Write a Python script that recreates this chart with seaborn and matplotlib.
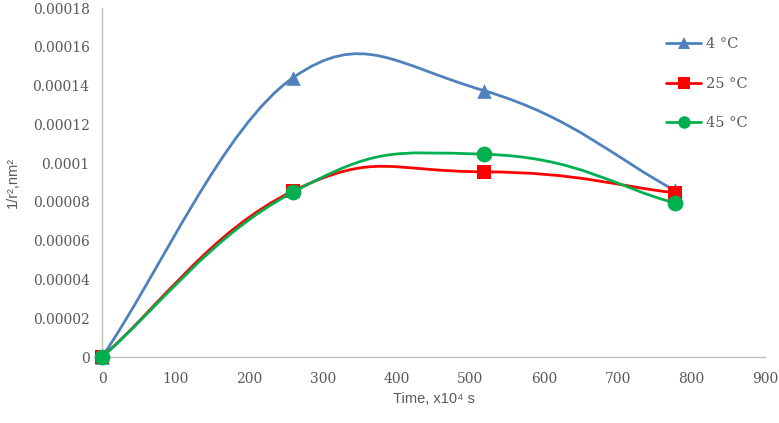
import numpy as np
import pandas as pd
import matplotlib
matplotlib.use("Agg")
import matplotlib.pyplot as plt
import seaborn as sns
from matplotlib.path import Path
from matplotlib.patches import PathPatch
from matplotlib.lines import Line2D
from matplotlib.ticker import FuncFormatter, MultipleLocator

# ---------------------------------------------------------
# data (time in x10^4 s, 1/r^2 in nm^2)
# ---------------------------------------------------------
time = [0, 259.2, 518.4, 777.6]
r_4 = [0, 0.000144, 0.0001374, 0.0000860]
r_25 = [0, 0.0000856, 0.0000955, 0.0000847]
r_45 = [0, 0.0000850, 0.0001046, 0.0000795]
labels = ["4 °C", "25 °C", "45 °C"]

colors = {"4 °C": "#4f81bd", "25 °C": "#ff0000", "45 °C": "#00b050"}
markers = {"4 °C": "^", "25 °C": "s", "45 °C": "o"}

df = pd.DataFrame({
    "time": time * 3,
    "val": r_4 + r_25 + r_45,
    "series": [lab for lab in labels for _ in time],
})

sns.set_style("white")
plt.rcParams["font.family"] = ["DejaVu Serif"]

fig = plt.figure(figsize=(7.79, 4.23), dpi=100)
ax = fig.add_axes([102 / 779, 66 / 423, 663 / 779, 349 / 423])
ax.set_xlim(0, 900)
ax.set_ylim(0, 0.00018)


# ---------------------------------------------------------
# smoothed line like the spreadsheet one (bezier in pixel space)
# ---------------------------------------------------------
def smooth_path(ax, xs, ys):
    pts = ax.transData.transform(np.column_stack([xs, ys]))
    n = len(pts)
    verts = [pts[0]]
    codes = [Path.MOVETO]

    def ctrl_len(i):
        # weight of the tangent at inner point i
        d0 = np.hypot(*(pts[i] - pts[i - 1]))
        d1 = np.hypot(*(pts[i + 1] - pts[i]))
        return 0.5 * min(d0, d1) / (d0 + d1)

    for i in range(n - 1):
        p1, p2 = pts[i], pts[i + 1]
        if i > 0:
            c1 = p1 + (p2 - pts[i - 1]) * ctrl_len(i)
        else:
            c1 = p1 + (p2 - p1) * 0.3
        if i + 2 < n:
            c2 = p2 - (pts[i + 2] - p1) * ctrl_len(i + 1)
        else:
            c2 = p2 - (p2 - p1) * 0.3
        verts += [c1, c2, p2]
        codes += [Path.CURVE4] * 3
    data_verts = ax.transData.inverted().transform(np.array(verts))
    return Path(data_verts, codes)


for k, lab in enumerate(labels):
    sub = df[df["series"] == lab]
    patch = PathPatch(smooth_path(ax, sub["time"].values, sub["val"].values),
                      fill=False, edgecolor=colors[lab], lw=2.0,
                      zorder=2 + 2 * k, clip_on=False)
    ax.add_patch(patch)
    sns.scatterplot(data=sub, x="time", y="val", marker=markers[lab],
                    color=colors[lab], s=110 if lab != "45 °C" else 130,
                    linewidth=0, ax=ax, zorder=3 + 2 * k, clip_on=False,
                    legend=False)

# ---------------------------------------------------------
# axes styling
# ---------------------------------------------------------
ax.xaxis.set_major_locator(MultipleLocator(100))
ax.yaxis.set_major_locator(MultipleLocator(0.00002))
ax.yaxis.set_major_formatter(FuncFormatter(
    lambda v, p: "0" if abs(v) < 1e-12 else f"{v:.5f}".rstrip("0").rstrip(".")))

for s in ["top", "right"]:
    ax.spines[s].set_visible(False)
for s in ["left", "bottom"]:
    ax.spines[s].set_color("#bfbfbf")
    ax.spines[s].set_linewidth(1.0)
ax.tick_params(axis="both", direction="out", length=5, width=1.0,
               color="#bfbfbf", labelcolor="#595959", labelsize=10)
ax.tick_params(axis="x", pad=6)
ax.tick_params(axis="y", pad=4)
ax.grid(False)

ax.set_xlabel("Time, x10⁴ s", family=["Liberation Sans", "DejaVu Sans"],
              fontsize=10.5, color="#595959", labelpad=4)
ax.set_ylabel("1/r²,nm²", family=["Liberation Sans", "DejaVu Sans"],
              fontsize=10.5, color="#595959", labelpad=9)

handles = [Line2D([0], [0], color=colors[lab], lw=2.0, marker=markers[lab],
                  markersize=8 if lab != "45 °C" else 9, markeredgewidth=0)
           for lab in labels]
leg = fig.legend(handles, labels, loc="upper left",
                 bbox_to_anchor=(659 / 779, 1 - 30 / 423), frameon=False,
                 fontsize=10.5, labelspacing=1.75, handlelength=2.4,
                 handletextpad=0.3, borderpad=0)
for t in leg.get_texts():
    t.set_color("#595959")

fig.savefig("out.png", dpi=100)
